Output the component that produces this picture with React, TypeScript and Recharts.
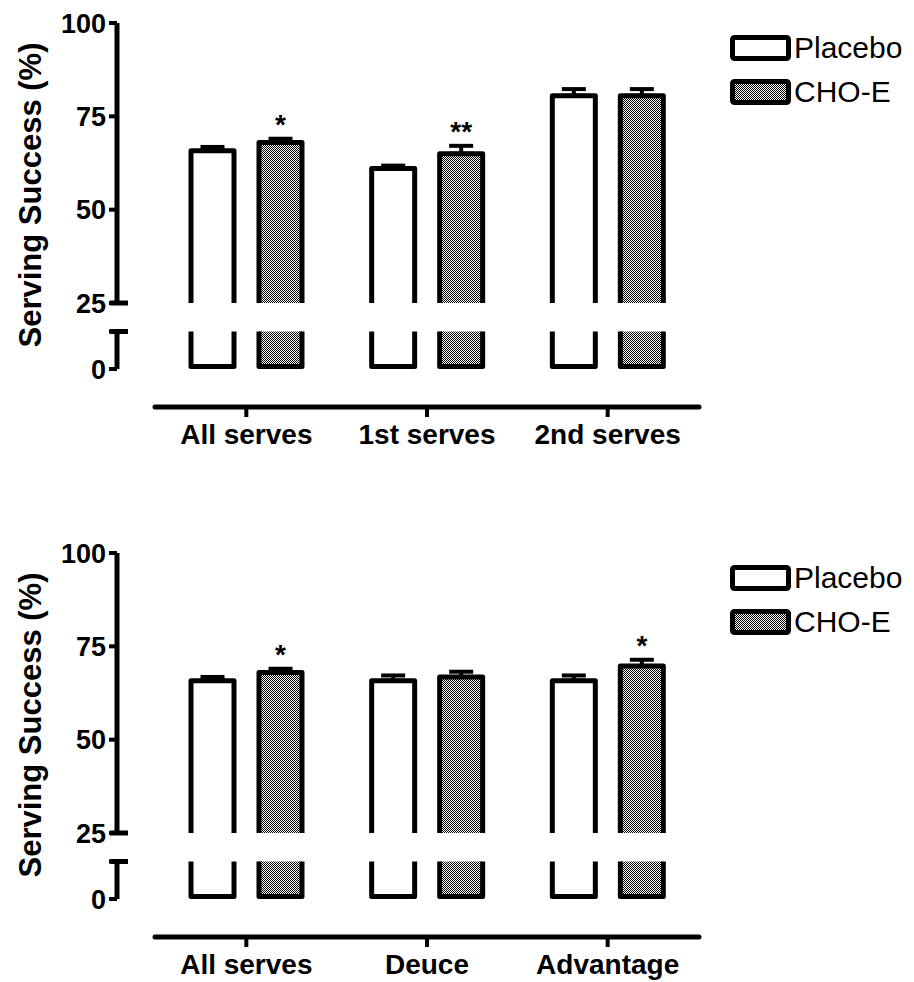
import React from "react";
import {
  ComposedChart,
  Bar,
  XAxis,
  YAxis,
  ErrorBar,
  LabelList,
  Legend,
} from "recharts";

const FONT = '"Liberation Sans", Arial, Helvetica, sans-serif';

// Panel 1
const topCategories = ["All serves", "1st serves", "2nd serves"];
const topPlacebo = [65.8, 61.0, 80.5];
const topPlaceboErr = [1.0, 0.8, 1.8];
const topCho = [68.0, 65.0, 80.5];
const topChoErr = [1.0, 2.1, 1.8];
const topSig = ["*", "**", ""];

// Panel 2
const bottomCategories = ["All serves", "Deuce", "Advantage"];
const bottomPlacebo = [65.8, 65.8, 65.8];
const bottomPlaceboErr = [1.0, 1.4, 1.4];
const bottomCho = [68.0, 66.8, 69.7];
const bottomChoErr = [1.0, 1.4, 1.7];
const bottomSig = ["*", "", "*"];

const seriesNames = ["Placebo", "CHO-E"];

// broken y axis
const upperTicks = [25, 50, 75, 100];
const lowerTicks = [0, 10];
const BREAK_HIGH = 25;
const BREAK_LOW = 10;

const AXIS_X = 117;

const UpperBarShape = (p: any) => {
  const { x, y, width, height, fill } = p;
  if (height <= 0) return null;
  return (
    <g>
      <rect x={x} y={y} width={width} height={height} fill={fill} />
      <path
        d={`M${x},${y + height}V${y}H${x + width}V${y + height}`}
        fill="none"
        stroke="#000"
        strokeWidth={5}
        strokeLinejoin="round"
      />
    </g>
  );
};

const LowerBarShape = (p: any) => {
  const { x, y, width, height, fill } = p;
  const b = y + height - 2.5;
  return (
    <g>
      <rect x={x} y={y} width={width} height={height} fill={fill} />
      <path
        d={`M${x},${y}V${b}H${x + width}V${y}`}
        fill="none"
        stroke="#000"
        strokeWidth={5}
        strokeLinejoin="round"
      />
    </g>
  );
};

const makeTick = (capValue: number, hideValue?: number) => (props: any) => {
  const { x, y, payload } = props;
  return (
    <g>
      {payload.value !== hideValue && (
        <text
          x={x}
          y={y}
          dy="0.355em"
          textAnchor="end"
          fontFamily={FONT}
          fontWeight="bold"
          fontSize={27}
          fill="#000"
        >
          {payload.value}
        </text>
      )}
      {payload.value === capValue && (
        <line
          x1={AXIS_X - 7}
          x2={AXIS_X + 11}
          y1={y}
          y2={y}
          stroke="#000"
          strokeWidth={5}
        />
      )}
    </g>
  );
};

const YLabel = (props: any) => {
  const vb = props.viewBox || { x: 0, y: 23, width: 117, height: 280 };
  const cx = vb.x + 30;
  const cy = vb.y + vb.height / 2 + 32;
  return (
    <text
      x={cx}
      y={cy}
      transform={`rotate(-90, ${cx}, ${cy})`}
      textAnchor="middle"
      dominantBaseline="central"
      fontFamily={FONT}
      fontWeight="bold"
      fontSize={31}
      fill="#000"
    >
      Serving Success (%)
    </text>
  );
};

const LegendContent = (props: any) => {
  const items = [...(props.payload || [])].sort(
    (a: any, b: any) => seriesNames.indexOf(a.value) - seriesNames.indexOf(b.value)
  );
  return (
    <svg width={184} height={84}>
      {items.map((entry: any, i: number) => (
        <g key={entry.value} transform={`translate(0, ${i * 44})`}>
          <rect
            x={4.5}
            y={9.5}
            width={56}
            height={21}
            fill={entry.color}
            stroke="#000"
            strokeWidth={5}
            rx={2}
          />
          <text x={66} y={30} fontFamily={FONT} fontSize={30} fill="#000">
            {entry.value}
          </text>
        </g>
      ))}
    </svg>
  );
};

interface PanelProps {
  top: number;
  categories: string[];
  placebo: number[];
  placeboErr: number[];
  cho: number[];
  choErr: number[];
  sig: string[];
}

function Panel({ top, categories, placebo, placeboErr, cho, choErr, sig }: PanelProps) {
  const data = categories.map((name, i) => ({
    name,
    placebo: placebo[i],
    placeboErr: placeboErr[i],
    cho: cho[i],
    choErr: choErr[i],
    sig: sig[i],
  }));

  const renderSig = (props: any) => {
    const vb = props.viewBox || props;
    const { x, y, width, height } = vb;
    const row = data[props.index];
    if (!row || !row.sig) return null;
    const pxPerUnit = height / (row.cho - BREAK_HIGH);
    const errTop = y - row.choErr * pxPerUnit;
    return (
      <text
        x={x + width / 2}
        y={errTop - 5}
        textAnchor="middle"
        fontFamily={FONT}
        fontWeight="bold"
        fontSize={28}
        fill="#000"
      >
        {row.sig}
      </text>
    );
  };

  return (
    <>
      {/* upper segment 25-100 */}
      <div style={{ position: "absolute", left: 0, top: top }}>
        <ComposedChart
          width={914}
          height={360}
          data={data}
          margin={{ top: 23, right: 216, bottom: 57, left: 0 }}
          barSize={43}
          barGap={25}
        >
          <XAxis dataKey="name" hide padding={{ left: 39, right: 0 }} />
          <YAxis
            width={117}
            domain={[BREAK_HIGH, 100]}
            ticks={upperTicks}
            interval={0}
            axisLine={{ stroke: "#000", strokeWidth: 5 }}
            tickLine={{ stroke: "#000", strokeWidth: 4 }}
            tickSize={8}
            tickMargin={3}
            tick={makeTick(BREAK_HIGH)}
            label={YLabel}
          />
          <Legend
            layout="horizontal"
            verticalAlign="middle"
            align="center"
            content={LegendContent}
            wrapperStyle={{ position: "absolute", left: 728, top: 28, width: 184 }}
          />
          <Bar
            dataKey="placebo"
            name="Placebo"
            fill="#ffffff"
            shape={UpperBarShape}
            isAnimationActive={false}
          >
            <ErrorBar
              dataKey={(d: any) => [0, d.placeboErr]}
              width={12}
              stroke="#000"
              strokeWidth={4}
              direction="y"
              isAnimationActive={false}
            />
          </Bar>
          <Bar
            dataKey="cho"
            name="CHO-E"
            fill="url(#choHatch)"
            shape={UpperBarShape}
            isAnimationActive={false}
          >
            <ErrorBar
              dataKey={(d: any) => [0, d.choErr]}
              width={12}
              stroke="#000"
              strokeWidth={4}
              direction="y"
              isAnimationActive={false}
            />
            <LabelList dataKey="sig" content={renderSig} />
          </Bar>
        </ComposedChart>
      </div>

      {/* lower segment 0-10 */}
      <div style={{ position: "absolute", left: 0, top: top + 300 }}>
        <ComposedChart
          width={914}
          height={100}
          data={data}
          margin={{ top: 31.5, right: 216, bottom: 31, left: 0 }}
          barSize={43}
          barGap={25}
        >
          <XAxis dataKey="name" hide padding={{ left: 39, right: 0 }} />
          <YAxis
            width={117}
            domain={[0, BREAK_LOW]}
            allowDataOverflow
            ticks={lowerTicks}
            interval={0}
            axisLine={{ stroke: "#000", strokeWidth: 5 }}
            tickLine={{ stroke: "#000", strokeWidth: 4 }}
            tickSize={8}
            tickMargin={3}
            tick={makeTick(BREAK_LOW, BREAK_LOW)}
          />
          <Bar
            dataKey="placebo"
            fill="#ffffff"
            shape={LowerBarShape}
            isAnimationActive={false}
          />
          <Bar
            dataKey="cho"
            fill="url(#choHatch)"
            shape={LowerBarShape}
            isAnimationActive={false}
          />
        </ComposedChart>
      </div>

      {/* category axis, set below the bars */}
      <div style={{ position: "absolute", left: 0, top: top + 390 }}>
        <ComposedChart
          width={914}
          height={80}
          data={data}
          margin={{ top: 0, right: 215, bottom: 0, left: 155 }}
        >
          <XAxis
            dataKey="name"
            scale="band"
            height={63}
            padding={{ left: 1, right: 1 }}
            axisLine={{ stroke: "#000", strokeWidth: 5, strokeLinecap: "round" }}
            tickLine={{ stroke: "#000", strokeWidth: 4 }}
            tickSize={10}
            tickMargin={7}
            interval={0}
            tick={{
              fill: "#000",
              fontSize: 28,
              fontWeight: "bold",
              fontFamily: FONT,
            }}
          />
          <YAxis hide />
        </ComposedChart>
      </div>
    </>
  );
}

export default function App() {
  return (
    <div
      style={{
        position: "absolute",
        left: 0,
        top: 0,
        width: 914,
        height: 982,
        background: "#fff",
        fontFamily: FONT,
      }}
    >
      <svg width={0} height={0} style={{ position: "absolute" }}>
        <defs>
          <pattern id="choHatch" patternUnits="userSpaceOnUse" width={2} height={2}>
            <rect width={2} height={2} fill="#ffffff" />
            <rect x={0} y={0} width={1} height={1} fill="#000" />
            <rect x={1} y={1} width={1} height={1} fill="#000" />
          </pattern>
        </defs>
      </svg>
      <Panel
        top={0}
        categories={topCategories}
        placebo={topPlacebo}
        placeboErr={topPlaceboErr}
        cho={topCho}
        choErr={topChoErr}
        sig={topSig}
      />
      <Panel
        top={530}
        categories={bottomCategories}
        placebo={bottomPlacebo}
        placeboErr={bottomPlaceboErr}
        cho={bottomCho}
        choErr={bottomChoErr}
        sig={bottomSig}
      />
    </div>
  );
}
